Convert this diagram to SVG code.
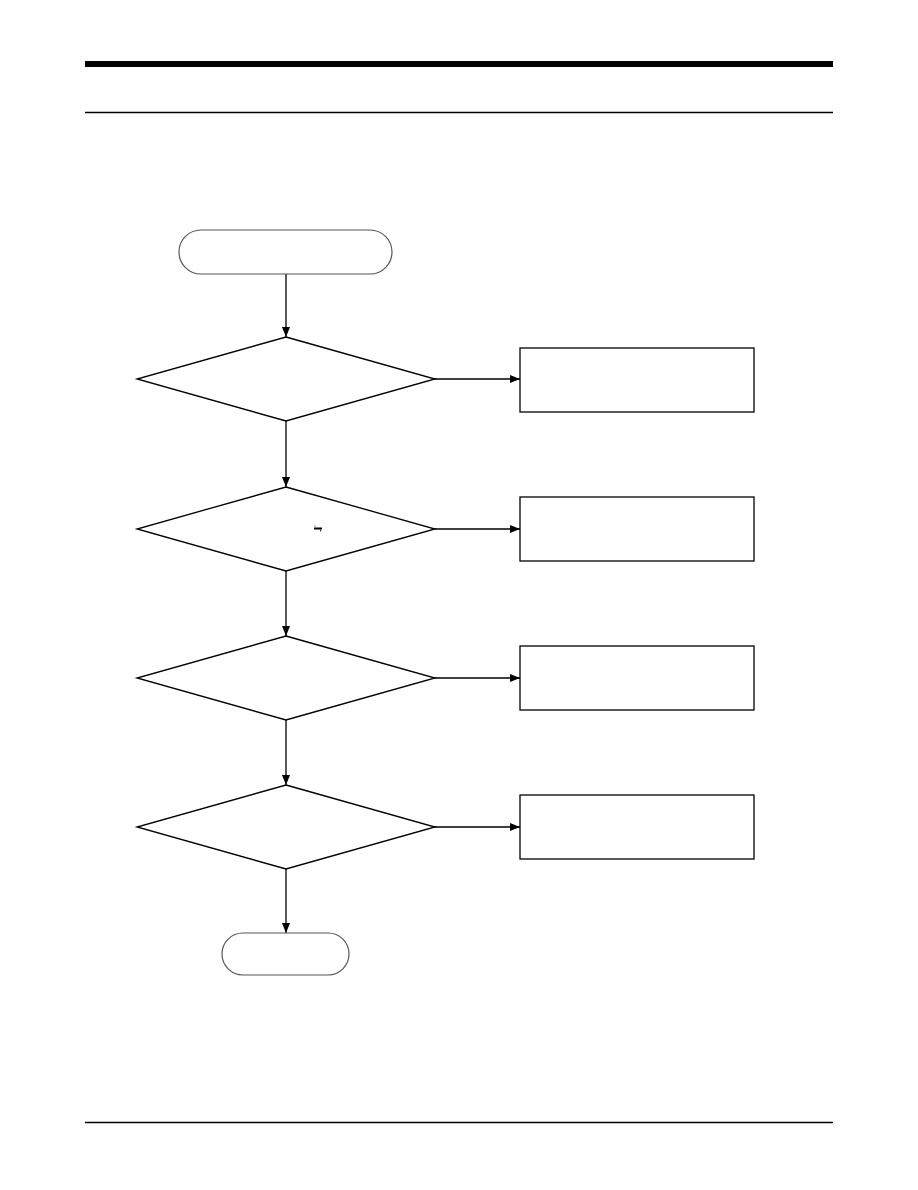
<svg xmlns="http://www.w3.org/2000/svg" width="918" height="1190" viewBox="0 0 918 1190">
<style>
.term{fill:#fff;stroke:#555;stroke-width:1.2}
.dia{fill:#fff;stroke:#000;stroke-width:1.3}
.box{fill:#fff;stroke:#000;stroke-width:1.3}
.conn{stroke:#000;stroke-width:1.3;fill:none}
</style>
<defs>
<marker id="ah" viewBox="0 0 10 8" refX="10" refY="4" markerWidth="10" markerHeight="8" markerUnits="userSpaceOnUse" orient="auto">
<path d="M0,0 L10,4 L0,8 Z" fill="#000"/>
</marker>
</defs>
<rect width="918" height="1190" fill="#fff"/>
<g id="frame">
<rect x="85" y="61" width="748" height="6" fill="#000"/>
<line x1="85" y1="112.5" x2="833" y2="112.5" stroke="#000" stroke-width="1.4"/>
<line x1="85" y1="1122.5" x2="833" y2="1122.5" stroke="#000" stroke-width="1.4"/>
</g>
<g id="connectors">
<line class="conn" x1="286" y1="274" x2="286" y2="337" marker-end="url(#ah)"/>
<line class="conn" x1="286" y1="421" x2="286" y2="487" marker-end="url(#ah)"/>
<line class="conn" x1="286" y1="571" x2="286" y2="636" marker-end="url(#ah)"/>
<line class="conn" x1="286" y1="720" x2="286" y2="785" marker-end="url(#ah)"/>
<line class="conn" x1="286" y1="869" x2="286" y2="933" marker-end="url(#ah)"/>
<line class="conn" x1="435" y1="379" x2="520" y2="379" marker-end="url(#ah)"/>
<line class="conn" x1="435" y1="529" x2="520" y2="529" marker-end="url(#ah)"/>
<line class="conn" x1="435" y1="678" x2="520" y2="678" marker-end="url(#ah)"/>
<line class="conn" x1="435" y1="827" x2="520" y2="827" marker-end="url(#ah)"/>
</g>
<g id="start"><rect class="term" x="179" y="230" width="213" height="44" rx="22"/></g>
<g id="decision1"><polygon class="dia" points="286,337 435,379 286,421 137,379"/></g>
<g id="decision2"><polygon class="dia" points="286,487 435,529 286,571 137,529"/>
<rect x="314" y="527.5" width="8" height="2" fill="#000"/><rect x="314.5" y="525.5" width="1" height="1" fill="#333"/><rect x="320" y="529.5" width="1" height="2" fill="#333"/></g>
<g id="decision3"><polygon class="dia" points="286,636 435,678 286,720 137,678"/></g>
<g id="decision4"><polygon class="dia" points="286,785 435,827 286,869 137,827"/></g>
<g id="box1"><rect class="box" x="520" y="348" width="234" height="64"/></g>
<g id="box2"><rect class="box" x="520" y="497" width="234" height="64"/></g>
<g id="box3"><rect class="box" x="520" y="646" width="234" height="64"/></g>
<g id="box4"><rect class="box" x="520" y="795" width="234" height="64"/></g>
<g id="end"><rect class="term" x="222" y="933" width="127" height="42" rx="21"/></g>
</svg>
